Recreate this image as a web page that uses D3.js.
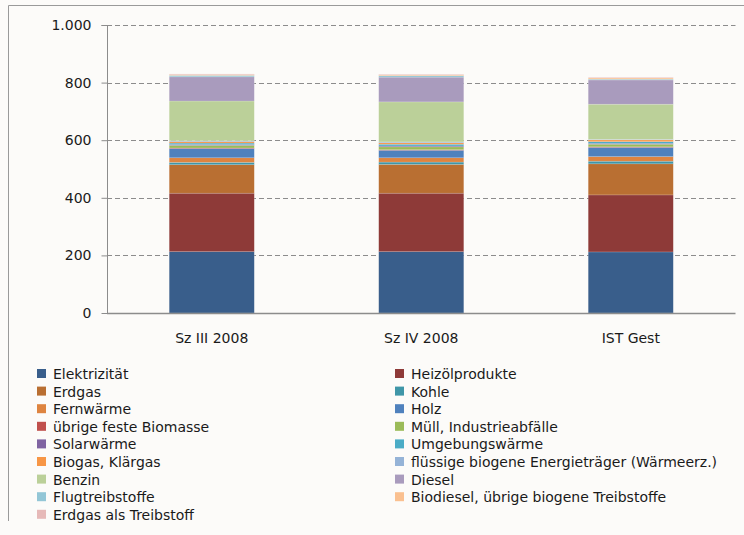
<!DOCTYPE html>
<html>
<head>
<meta charset="utf-8">
<script src="https://cdn.jsdelivr.net/npm/d3@7"></script>
<style>
  html, body { margin: 0; padding: 0; background: #fcfbf9; }
  svg { display: block; }
  text { font-family: "DejaVu Sans", sans-serif; fill: #1a1a1a; }
</style>
</head>
<body>
<div id="chart"></div>
<script>
// categories on the x axis
const categories = ["Sz III 2008", "Sz IV 2008", "IST Gest"];

// energy carriers, bottom to top of the stack
const seriesNames = [
  "Elektrizität", "Heizölprodukte", "Erdgas", "Kohle", "Fernwärme", "Holz",
  "übrige feste Biomasse", "Müll, Industrieabfälle", "Solarwärme", "Umgebungswärme",
  "Biogas, Klärgas", "flüssige biogene Energieträger (Wärmeerz.)", "Benzin", "Diesel",
  "Flugtreibstoffe", "Biodiesel, übrige biogene Treibstoffe", "Erdgas als Treibstoff"
];

const seriesColors = [
  "#395e8b", "#8e3a38", "#b96f32", "#3f96a8", "#de8440", "#4f81bd",
  "#c0504d", "#9bbb59", "#8064a2", "#4bacc6",
  "#f79646", "#95b3d7", "#bbd099", "#a99bbd",
  "#93c6d6", "#fac090", "#e6b9b8"
];

// values per category, same order as seriesNames
const szIII2008 = [213, 203, 99, 8, 16, 32, 2, 9, 3, 5, 5, 3, 138, 84, 5, 3, 2];
const szIV2008  = [213, 203, 100, 8, 15, 26, 2, 10, 3, 6, 5, 3, 139, 86, 5, 3, 2];
const istGest   = [212, 198, 108, 9, 16, 32, 2, 9, 3, 6, 6, 2, 122, 84, 3, 4, 2];

const yTicks = [0, 200, 400, 600, 800, 1000];

(function () {
  const width = 744, height = 535;
  const valuesByCat = [szIII2008, szIV2008, istGest];

  const rows = categories.map((c, i) => {
    const row = { category: c };
    seriesNames.forEach((s, j) => { row[s] = valuesByCat[i][j]; });
    return row;
  });

  const stacked = d3.stack().keys(seriesNames)(rows);

  const svg = d3.select("#chart").append("svg")
    .attr("width", width)
    .attr("height", height);

  svg.append("rect")
    .attr("width", width).attr("height", height)
    .attr("fill", "#fcfbf9");

  // outer frame (left and top only visible)
  svg.append("path")
    .attr("d", "M8.5,521 V5.5 H744")
    .attr("fill", "none")
    .attr("stroke", "#9a9a9a")
    .attr("stroke-width", 1);

  const x = d3.scaleBand()
    .domain(categories)
    .range([107, 735.5])
    .paddingInner(0.594)
    .paddingOuter(0.297);

  const y = d3.scaleLinear()
    .domain([0, 1000])
    .range([313, 25]);

  const de = d3.formatLocale({ decimal: ",", thousands: ".", grouping: [3], currency: ["", " €"] });
  const fmt = de.format(",d");

  // gridlines
  svg.append("g")
    .selectAll("line")
    .data(yTicks.filter(d => d > 0))
    .join("line")
    .attr("x1", 107).attr("x2", 735.5)
    .attr("y1", d => Math.round(y(d)) + 0.5)
    .attr("y2", d => Math.round(y(d)) + 0.5)
    .attr("stroke", "#8c8c8c")
    .attr("stroke-dasharray", "5,3");

  // bars
  svg.append("g")
    .selectAll("g")
    .data(stacked)
    .join("g")
    .attr("fill", (d, i) => seriesColors[i])
    .selectAll("rect")
    .data(d => d)
    .join("rect")
    .attr("x", d => x(d.data.category))
    .attr("width", x.bandwidth())
    .attr("y", d => y(d[1]))
    .attr("height", d => Math.max(0, y(d[0]) - y(d[1])))
    .attr("stroke", "rgba(255,255,255,0.25)")
    .attr("stroke-width", 0.6);

  // y axis
  const yAxis = svg.append("g")
    .attr("transform", "translate(107.5,0)")
    .call(d3.axisLeft(y).tickValues(yTicks).tickSize(6).tickPadding(10).tickFormat(fmt));
  yAxis.select(".domain").attr("stroke", "#8c8c8c").attr("d", "M-6," + (y(1000) + 0.5) + "H0V" + (y(0) + 0.5));
  yAxis.selectAll(".tick line").attr("stroke", "#8c8c8c");
  yAxis.selectAll(".tick text")
    .attr("font-size", 14)
    .style("font-family", "'DejaVu Sans', sans-serif")
    .attr("fill", "#1a1a1a");

  // x axis
  const xAxis = svg.append("g")
    .attr("transform", "translate(0," + (y(0) + 0.5) + ")")
    .call(d3.axisBottom(x).tickSize(0).tickPadding(20));
  xAxis.select(".domain").attr("stroke", "#8c8c8c").attr("stroke-width", 1.5).attr("d", "M107,0H735.5");
  xAxis.selectAll(".tick text")
    .attr("font-size", 14)
    .style("font-family", "'DejaVu Sans', sans-serif")
    .attr("fill", "#1a1a1a");

  // legend, two columns read row-wise
  const legend = svg.append("g");
  const items = legend.selectAll("g")
    .data(seriesNames)
    .join("g")
    .attr("transform", (d, i) => {
      const col = i % 2, row = Math.floor(i / 2);
      return "translate(" + (col === 0 ? 37 : 395) + "," + (369 + row * 17.6) + ")";
    });
  items.append("rect")
    .attr("width", 9).attr("height", 9)
    .attr("fill", (d, i) => seriesColors[i]);
  items.append("text")
    .attr("x", 16)
    .attr("y", 10)
    .attr("font-size", 14)
    .text(d => d);
})();
</script>
</body>
</html>
